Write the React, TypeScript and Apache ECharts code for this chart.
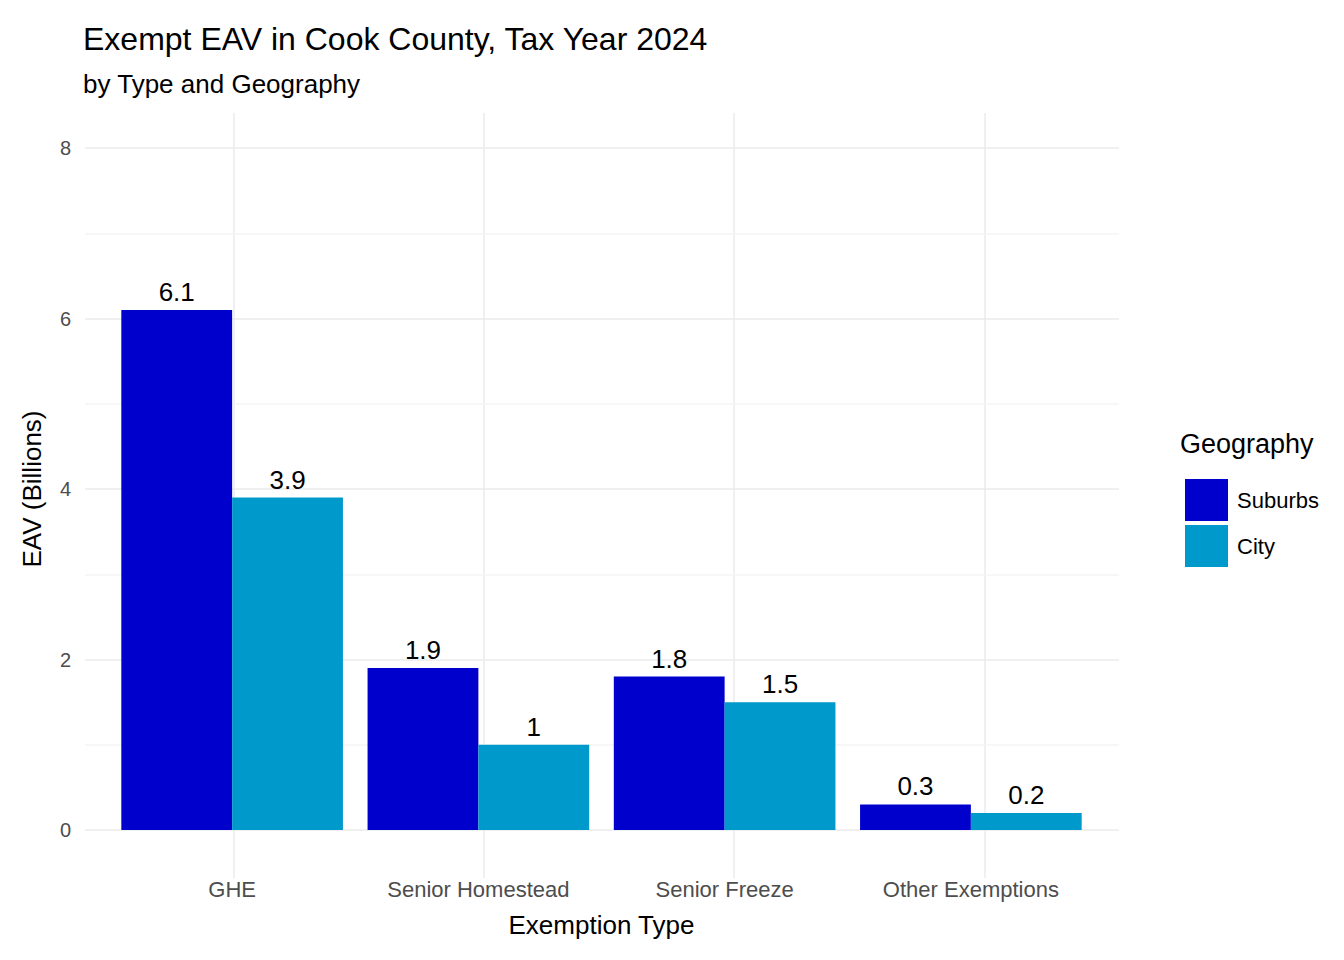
import { useEffect, useRef } from "react";
import * as echarts from "echarts";

const categories = ["GHE", "Senior Homestead", "Senior Freeze", "Other Exemptions"];
const suburbs = [6.1, 1.9, 1.8, 0.3];
const city = [3.9, 1.0, 1.5, 0.2];
const yTicks = [0, 1, 2, 3, 4, 5, 6, 7, 8];

const FONT = "Liberation Sans, Arial, sans-serif";

export default function App() {
  const ref = useRef<HTMLDivElement>(null);
  useEffect(() => {
    if (!ref.current) return;
    const chart = echarts.init(ref.current, undefined, { renderer: "svg" });
    const centers = [226, 476, 726, 977];
    chart.setOption({
      animation: false,
      textStyle: { fontFamily: FONT },
      title: [
        { text: "Exempt EAV in Cook County, Tax Year 2024", left: 70, top: 10, textStyle: { fontSize: 32, fontWeight: "normal", color: "#000", fontFamily: FONT } },
        { text: "by Type and Geography", left: 70, top: 58, textStyle: { fontSize: 26, fontWeight: "normal", color: "#000", fontFamily: FONT } },
      ],
      legend: {
        orient: "vertical", left: 1172, top: 466, itemWidth: 43, itemHeight: 42, itemGap: 4,
        icon: "rect", textStyle: { fontSize: 22, color: "#000", padding: [0, 0, 0, 4] },
        data: ["Suburbs", "City"],
      },
      grid: [
        { left: 77, right: 217, top: 140, bottom: 122 },
        { left: 101, right: 242, top: 140, bottom: 122 },
      ],
      xAxis: [
        { gridIndex: 0, type: "value", show: false, min: 0, max: 1 },
        {
          gridIndex: 1, type: "category", data: categories,
          axisLine: { show: false }, axisTick: { show: false },
          axisLabel: { fontSize: 22, color: "#4d4d4d", margin: 48 },
          name: "Exemption Type", nameLocation: "middle", nameGap: 82,
          nameTextStyle: { fontSize: 26, color: "#000" },
        },
      ],
      yAxis: [
        {
          gridIndex: 0, type: "value", min: 0, max: 8, interval: 1,
          axisLine: { show: false }, axisTick: { show: false },
          axisLabel: { fontSize: 20, color: "#4d4d4d", margin: 14, formatter: (v: number) => (yTicks.indexOf(v) % 2 === 0 ? String(v) : "") },
          splitLine: { lineStyle: { color: ["#ebebeb", "#f4f4f4"], width: 1.5 } },
          name: "EAV (Billions)", nameLocation: "middle", nameGap: 40,
          nameTextStyle: { fontSize: 26, color: "#000" },
        },
        { gridIndex: 1, type: "value", min: 0, max: 8, show: false },
      ],
      graphic: centers.map((x) => ({
        type: "line", z: -1, shape: { x1: x, y1: 105, x2: x, y2: 870 },
        style: { stroke: "#ebebeb", lineWidth: 1.5 },
      })).concat([{
        type: "text", left: 1172, top: 422, z: 10,
        style: { text: "Geography", fontSize: 27, fill: "#000", fontFamily: FONT },
      } as any]),
      series: [
        {
          name: "Suburbs", type: "bar", xAxisIndex: 1, yAxisIndex: 1, data: suburbs,
          barGap: "0%", barCategoryGap: "10%", itemStyle: { color: "#0000CD" },
          label: { show: true, position: "top", fontSize: 26, color: "#000", distance: 5 },
        },
        {
          name: "City", type: "bar", xAxisIndex: 1, yAxisIndex: 1, data: city,
          barGap: "0%", barCategoryGap: "10%", itemStyle: { color: "#0099CC" },
          label: { show: true, position: "top", fontSize: 26, color: "#000", distance: 5 },
        },
      ],
    });
    return () => chart.dispose();
  }, []);
  return <div ref={ref} style={{ width: 1328, height: 944 }} />;
}
